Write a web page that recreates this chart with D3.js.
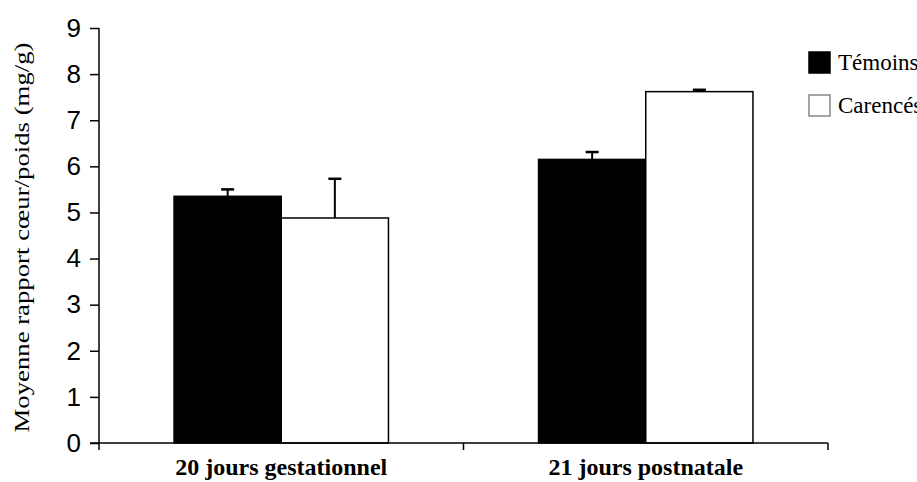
<!DOCTYPE html>
<html>
<head>
<meta charset="utf-8">
<script src="https://cdn.jsdelivr.net/npm/d3@7"></script>
<style>
  body { margin: 0; background: #fff; overflow: hidden; }
</style>
</head>
<body>
<svg id="chart" width="917" height="482"></svg>
<script>
// données
const categories = ["20 jours gestationnel", "21 jours postnatale"];
const groupes = ["Témoins", "Carencés"];
const temoins = [5.35, 6.15];
const temoinsErr = [0.15, 0.16];
const carences = [4.88, 7.62];
const carencesErr = [0.85, 0.04];
const yTicks = [0, 1, 2, 3, 4, 5, 6, 7, 8, 9];

const svg = d3.select("#chart");
const x0 = 99, x1 = 828, yTop = 28, yBot = 443;

const x = d3.scaleBand().domain(categories).range([x0, x1]).paddingInner(0).paddingOuter(0);
const xSub = d3.scaleBand().domain(groupes).range([0, x.bandwidth()]).paddingOuter(0.7).paddingInner(0);
const y = d3.scaleLinear().domain([0, 9]).range([yBot, yTop]);

const rows = categories.map((c, i) => ({
    cat: c,
    vals: [
        { g: groupes[0], v: temoins[i], e: temoinsErr[i], fill: "#000" },
        { g: groupes[1], v: carences[i], e: carencesErr[i], fill: "#fff" }
    ]
}));

const groups = svg.append("g").selectAll("g")
    .data(rows).join("g")
    .attr("transform", d => `translate(${x(d.cat)},0)`);

// barres d'erreur (partie haute seulement)
groups.selectAll("g.err")
    .data(d => d.vals).join("g")
    .attr("class", "err")
    .each(function(d) {
        const cx = xSub(d.g) + xSub.bandwidth() / 2;
        const g = d3.select(this);
        g.append("line").attr("x1", cx).attr("x2", cx)
            .attr("y1", y(d.v)).attr("y2", y(d.v + d.e))
            .attr("stroke", "#000").attr("stroke-width", 2);
        g.append("line").attr("x1", cx - 6.5).attr("x2", cx + 6.5)
            .attr("y1", y(d.v + d.e)).attr("y2", y(d.v + d.e))
            .attr("stroke", "#000").attr("stroke-width", 2.5);
    });

groups.selectAll("rect")
    .data(d => d.vals).join("rect")
    .attr("x", d => xSub(d.g))
    .attr("width", xSub.bandwidth())
    .attr("y", d => y(d.v))
    .attr("height", d => yBot - y(d.v))
    .attr("fill", d => d.fill)
    .attr("stroke", "#000")
    .attr("stroke-width", 1.5);

// axe Y
const yAxis = svg.append("g")
    .attr("transform", `translate(${x0},0)`)
    .call(d3.axisLeft(y).tickValues(yTicks).tickSize(9).tickPadding(9).tickFormat(d3.format("d")));
yAxis.select(".domain").attr("stroke-width", 1.5).attr("d", `M0,${yTop}V${yBot}`);
yAxis.selectAll(".tick line").attr("stroke-width", 1.5);
yAxis.selectAll("text")
    .attr("font-family", "Liberation Sans, Arial, sans-serif")
    .attr("font-size", 26)
    .attr("fill", "#000");

// axe X
const xAxis = svg.append("g")
    .attr("transform", `translate(0,${yBot})`)
    .call(d3.axisBottom(x).tickSize(0).tickPadding(15));
xAxis.select(".domain").attr("stroke-width", 1.5).attr("d", `M${x0 - 9},0H${x1}`);
xAxis.selectAll("text")
    .attr("font-family", "Liberation Serif, Times New Roman, serif")
    .attr("font-weight", "bold")
    .attr("font-size", 24)
    .attr("fill", "#000");
svg.append("g").selectAll("line")
    .data([x0, x0 + x.bandwidth(), x1]).join("line")
    .attr("x1", d => d).attr("x2", d => d)
    .attr("y1", yBot).attr("y2", yBot + 7)
    .attr("stroke", "#000").attr("stroke-width", 1.5);

// titre de l'axe Y
svg.append("text")
    .attr("transform", `translate(29,${(yTop + yBot) / 2 + 2}) rotate(-90)`)
    .attr("text-anchor", "middle")
    .attr("font-family", "Liberation Serif, Times New Roman, serif")
    .attr("font-size", 21)
    .attr("textLength", 390)
    .attr("lengthAdjust", "spacingAndGlyphs")
    .text("Moyenne rapport cœur/poids (mg/g)");

// légende
const legend = svg.append("g").selectAll("g")
    .data(groupes).join("g")
    .attr("transform", (d, i) => `translate(809,${52 + i * 43})`);
legend.append("rect")
    .attr("width", 21).attr("height", 21)
    .attr("fill", (d, i) => i === 0 ? "#000" : "#fff")
    .attr("stroke", (d, i) => i === 0 ? "#000" : "#888")
    .attr("stroke-width", 1.5);
legend.append("text")
    .attr("x", 29).attr("y", 18)
    .attr("font-family", "Liberation Serif, Times New Roman, serif")
    .attr("font-size", 23)
    .text(d => d);
</script>
</body>
</html>
